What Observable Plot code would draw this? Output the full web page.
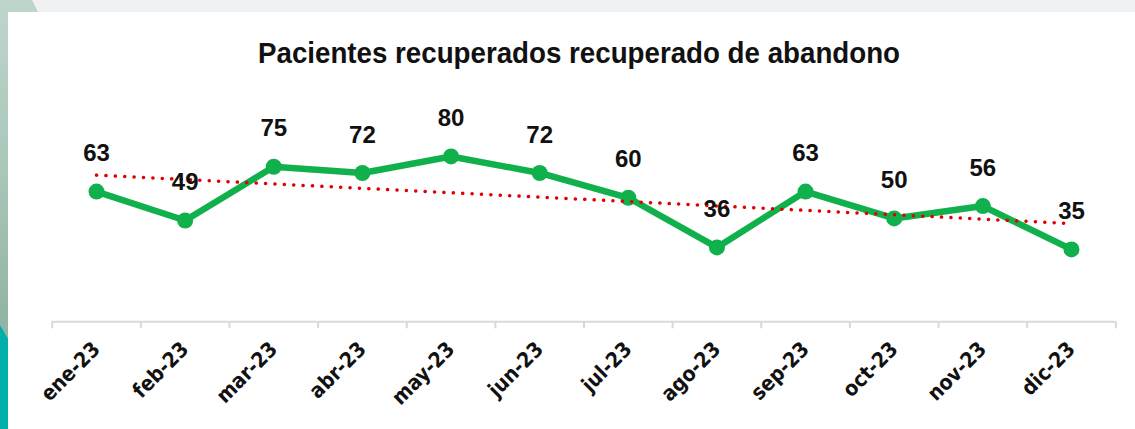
<!DOCTYPE html>
<html>
<head>
<meta charset="utf-8">
<script src="https://cdn.jsdelivr.net/npm/d3@7"></script>
<script src="https://cdn.jsdelivr.net/npm/@observablehq/plot@0.6"></script>
<style>
  html, body { margin: 0; padding: 0; background: #eff1f3; }
  #page { position: relative; width: 1135px; height: 429px; overflow: hidden; background: #eff1f3; }
  #leftstrip { position: absolute; left: 0; top: 0; width: 42px; height: 429px;
    background: linear-gradient(180deg, #bfd5cb 0%, #a9c6b9 40%, #92b4a5 75%);
    clip-path: polygon(0 0, 32px 0, 40px 16px, 8px 16px, 8px 100%, 0 100%); }
  #teal { position: absolute; left: 0; top: 0; width: 10px; height: 429px; background: #00afa9;
    clip-path: polygon(0 325px, 8px 339px, 8px 429px, 0 429px); }
  #card { position: absolute; left: 8px; top: 12px; width: 1127px; height: 417px; background: #ffffff; }
  #title { position: absolute; left: 571px; top: 26px; white-space: nowrap;
    font-family: "Liberation Sans", Arial, sans-serif;
    font-weight: bold; font-size: 30px; line-height: 1; color: #111; transform-origin: 0 0; }
  #chart { position: absolute; left: 0; top: 70px; }
</style>
</head>
<body>
<div id="page">
  <div id="leftstrip"></div>
  <div id="teal"></div>
  <div id="card">
    <div id="title">Pacientes recuperados recuperado de abandono</div>
    <div id="chart"></div>
  </div>
</div>
<script>
const months = ["ene-23","feb-23","mar-23","abr-23","may-23","jun-23","jul-23","ago-23","sep-23","oct-23","nov-23","dic-23"];
const values = [63, 49, 75, 72, 80, 72, 60, 36, 63, 50, 56, 35];

const data = months.map((m, i) => ({i, month: m, value: values[i]}));
const boundaries = d3.range(months.length + 1).map(k => k - 0.5);

const green = "#10b14c";
const chart = Plot.plot({
  width: 1127,
  height: 347,
  marginTop: 32.6,
  marginBottom: 107.7,
  marginLeft: 43.7,
  marginRight: 19.7,
  style: {background: "transparent", overflow: "visible"},
  x: {type: "linear", domain: [-0.5, months.length - 0.5], axis: null, label: null},
  y: {domain: [0, 100], axis: null, label: null},
  marks: [
    Plot.ruleY([0], {stroke: "#d9d9d9", strokeWidth: 2}),
    Plot.axisX(boundaries, {tickSize: 7, stroke: "#d9d9d9", strokeWidth: 2, tickFormat: () => "", label: null}),
    Plot.axisX(d3.range(months.length), {
      tickSize: 0, tickRotate: -45, tickPadding: 24, label: null,
      tickFormat: i => months[i],
      fontSize: 21, fontWeight: "bold", fill: "#111",
      fontFamily: "DejaVu Sans Condensed, sans-serif"
    }),
    Plot.line(data, {x: "i", y: "value", stroke: green, strokeWidth: 6.5}),
    Plot.dot(data, {x: "i", y: "value", r: 8, fill: green}),
    Plot.linearRegressionY(data, {x: "i", y: "value", ci: 0, stroke: "#e00000", strokeWidth: 3.5,
      strokeDasharray: "0.1 9.3", strokeLinecap: "round"}),
    Plot.text(data, {x: "i", y: "value", text: d => String(d.value), dy: -38,
      fontSize: 24, fontWeight: "bold", fill: "#111",
      fontFamily: "Liberation Sans, Arial, sans-serif"})
  ]
});
document.getElementById("chart").appendChild(chart);

// fit title to the reference width
const t = document.getElementById("title");
const w = t.getBoundingClientRect().width;
const k = 642 / w;
t.style.transform = `translateX(${-321}px) scaleX(${k})`;
</script>
</body>
</html>
